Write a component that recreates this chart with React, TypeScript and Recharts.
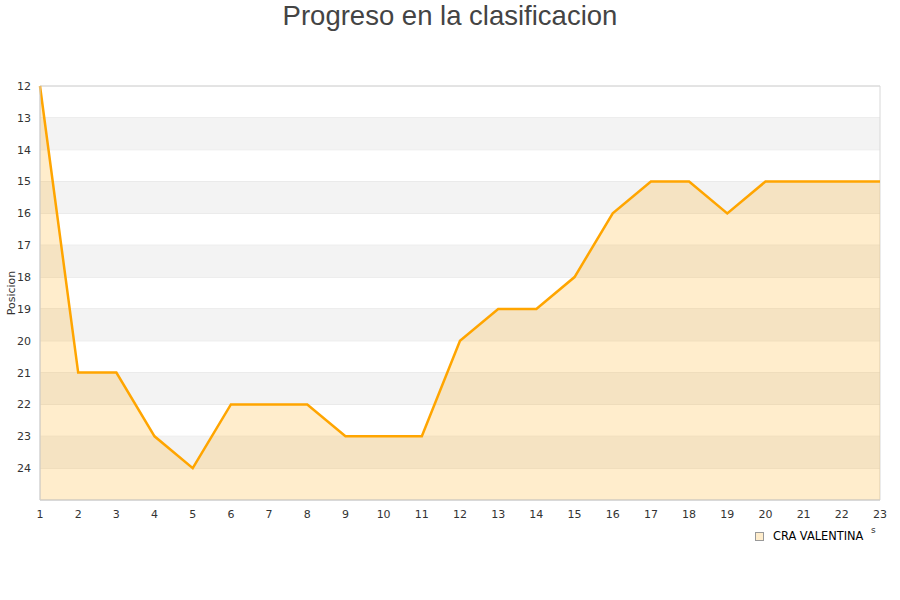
import React from "react";
import {
  ComposedChart,
  Area,
  XAxis,
  YAxis,
  CartesianGrid,
  ReferenceArea,
} from "recharts";

const jornadas = [1, 2, 3, 4, 5, 6, 7, 8, 9, 10, 11, 12, 13, 14, 15, 16, 17, 18, 19, 20, 21, 22, 23];
const posiciones = [12, 21, 21, 23, 24, 22, 22, 22, 23, 23, 23, 20, 19, 19, 18, 16, 15, 15, 16, 15, 15, 15, 15];
const yTicks = [12, 13, 14, 15, 16, 17, 18, 19, 20, 21, 22, 23, 24];
const bandStarts = [13, 15, 17, 19, 21, 23];
const seriesName = "CRA VALENTINA";
const title = "Progreso en la clasificacion";

const data = jornadas.map((j, i) => ({ jornada: j, pos: posiciones[i] }));

const FONT = "'DejaVu Sans', Verdana, sans-serif";

export default function App() {
  return (
    <div style={{ position: "fixed", left: 0, top: 0, width: 900, height: 600, background: "#fff" }}>
      <div
        style={{
          position: "absolute",
          left: 0,
          top: 0,
          width: 900,
          textAlign: "center",
          fontFamily: "'Liberation Sans', Arial, sans-serif",
          fontSize: 27.5,
          color: "#444",
          lineHeight: "32px",
        }}
      >
        {title}
      </div>
      <div
        style={{
          position: "absolute",
          left: 755,
          top: 529,
          display: "flex",
          alignItems: "center",
          fontFamily: FONT,
          fontSize: 11.4,
          color: "#000",
          lineHeight: "14px",
        }}
      >
        <span
          style={{
            display: "inline-block",
            width: 7,
            height: 7,
            border: "1px solid #999",
            background: "#ffedcc",
            marginRight: 9,
          }}
        />
        <span>{seriesName}</span>
      </div>
      <div
        style={{
          position: "absolute",
          left: 871,
          top: 525,
          fontFamily: FONT,
          fontSize: 9,
          color: "#333",
        }}
      >
        s
      </div>
      <ComposedChart
        width={900}
        height={600}
        data={data}
        margin={{ top: 86, right: 20, left: 0, bottom: 70 }}
      >
        {bandStarts.map((b) => (
          <ReferenceArea key={b} y1={b} y2={b + 1} fill="#f3f3f3" fillOpacity={1} stroke="none" ifOverflow="hidden" />
        ))}
        <CartesianGrid vertical={false} stroke="#e0e0e0" strokeDasharray="" />
        <XAxis
          dataKey="jornada"
          type="number"
          domain={[1, 23]}
          ticks={jornadas}
          interval={0}
          height={30}
          tickSize={0}
          tickMargin={10}
          axisLine={{ stroke: "#d0d0d0" }}
          tickLine={false}
          tick={{ fontSize: 11, fill: "#333", fontFamily: FONT }}
        />
        <YAxis
          type="number"
          domain={[12, 25]}
          reversed
          ticks={yTicks}
          interval={0}
          width={40}
          tickSize={0}
          tickMargin={9}
          axisLine={{ stroke: "#d0d0d0" }}
          tickLine={false}
          tick={{ fontSize: 11, fill: "#333", fontFamily: FONT }}
          label={{
            value: "Posicion",
            angle: -90,
            position: "insideLeft",
            offset: 11,
            style: { fontSize: 11, fill: "#333", fontFamily: FONT, textAnchor: "middle" },
          }}
        />
        <ReferenceArea x1={1} x2={23} y1={12} y2={25} fill="none" stroke="#d8d8d8" strokeWidth={1} />
        <Area
          type="linear"
          dataKey="pos"
          name={seriesName}
          baseValue={25}
          stroke="#ffa500"
          strokeWidth={2.5}
          fill="#ffa500"
          fillOpacity={0.2}
          dot={false}
          activeDot={false}
          isAnimationActive={false}
        />
      </ComposedChart>
    </div>
  );
}
